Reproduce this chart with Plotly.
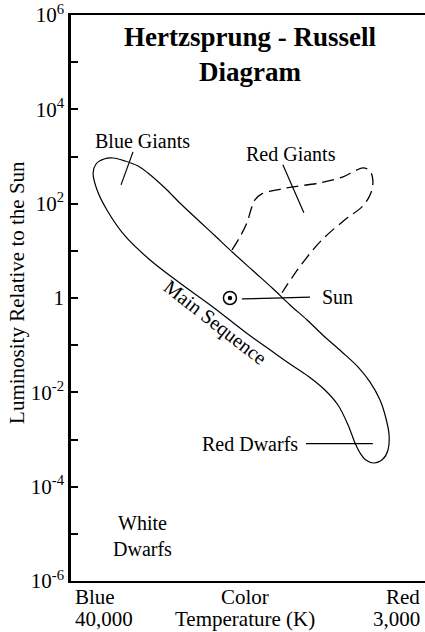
import numpy as np
import plotly.graph_objects as go

# ---------------------------------------------------------------------------
# Data (log10 of effective temperature in K, log10 of luminosity in L_sun)
# ---------------------------------------------------------------------------

# Main-sequence band outline (closed contour)
ms_log_temp = [4.637, 4.626, 4.596, 4.562, 4.517, 4.468, 4.431, 4.367, 4.311,
               4.235, 4.179, 4.111, 4.036, 3.961, 3.897, 3.833, 3.766, 3.702,
               3.642, 3.597, 3.559, 3.537, 3.525, 3.529, 3.548, 3.582, 3.612,
               3.634, 3.653, 3.679, 3.717, 3.766, 3.830, 3.897, 3.961, 4.066,
               4.187, 4.311, 4.423, 4.517, 4.585, 4.622]
ms_log_lum = [2.650, 2.841, 2.947, 2.968, 2.905, 2.799, 2.650, 2.332, 2.014,
              1.612, 1.319, 0.959, 0.577, 0.196, -0.148, -0.466, -0.826, -1.144,
              -1.462, -1.780, -2.162, -2.544, -2.904, -3.222, -3.413, -3.498, -3.434,
              -3.286, -3.074, -2.692, -2.268, -1.950, -1.653, -1.399, -1.144, -0.720,
              -0.190, 0.318, 0.806, 1.315, 1.866, 2.290]

# Red-giant branch region (open dashed contour)
rg_log_temp = [4.115, 4.085, 4.059, 4.044, 4.029, 4.003, 3.946, 3.886, 3.785,
               3.698, 3.653, 3.623, 3.597, 3.586, 3.593, 3.623, 3.691, 3.777,
               3.841, 3.890, 3.927]
rg_log_lum = [1.022, 1.298, 1.594, 1.870, 2.081, 2.208, 2.293, 2.357, 2.441,
              2.569, 2.696, 2.759, 2.696, 2.505, 2.230, 1.954, 1.658, 1.234,
              0.810, 0.429, 0.111]

# The Sun
sun_temp_k = 13270.0
sun_lum = 1.0

# Leader lines from labels to regions: (log T start, log T end), (log L start, log L end)
leader_log_temp = [(4.487, 4.532), (3.924, 3.845), (4.078, 3.822), (3.837, 3.586)]
leader_log_lum = [(3.098, 2.399), (2.823, 1.806), (-0.02, 0.02), (-3.087, -3.087)]

# Region labels (positions in log units)
region_labels = ["Blue Giants", "Red Giants", "Sun", "Red Dwarfs",
                 "Main Sequence", "White<br>Dwarfs"]
region_log_temp = [4.450, 3.894, 3.785, 3.860, 4.179, 4.450]
region_log_lum = [3.331, 3.056, 0.030, -3.087, -0.524, -5.036]

# Axis ticks and labels
y_major_exponents = [-6, -4, -2, 0, 2, 4, 6]
y_minor_exponents = [-5, -3, -1, 1, 3, 5]
y_tick_labels = ["10<sup>-6</sup>", "10<sup>-4</sup>", "10<sup>-2</sup>", "1",
                 "10<sup>2</sup>", "10<sup>4</sup>", "10<sup>6</sup>"]
x_left_labels = ["Blue", "40,000"]
x_mid_labels = ["Color", "Temperature (K)"]
x_right_labels = ["Red", "3,000"]

# ---------------------------------------------------------------------------
SERIF = "Liberation Serif, Times New Roman, serif"
INK = "black"

fig = go.Figure()

# Main sequence (closed smooth curve: first point repeated at the end)
ms_t = np.array(ms_log_temp + ms_log_temp[:1])
ms_l = np.array(ms_log_lum + ms_log_lum[:1])
fig.add_trace(go.Scatter(
    x=10 ** ms_t, y=10 ** ms_l, mode="lines",
    line=dict(color=INK, width=1.2, shape="spline", smoothing=1.0),
    hoverinfo="skip", showlegend=False))

# Red giants (dashed)
fig.add_trace(go.Scatter(
    x=10 ** np.array(rg_log_temp), y=10 ** np.array(rg_log_lum), mode="lines",
    line=dict(color=INK, width=1.3, shape="spline", smoothing=1.0, dash="12px,6px"),
    hoverinfo="skip", showlegend=False))

# Leader lines
for (t0, t1), (l0, l1) in zip(leader_log_temp, leader_log_lum):
    fig.add_trace(go.Scatter(
        x=[10 ** t0, 10 ** t1], y=[10 ** l0, 10 ** l1], mode="lines",
        line=dict(color=INK, width=1.2),
        hoverinfo="skip", showlegend=False))

# Sun symbol: open circle with a central dot
fig.add_trace(go.Scatter(
    x=[sun_temp_k], y=[sun_lum], mode="markers",
    marker=dict(symbol="circle-open", size=13, color=INK, line=dict(width=1.5)),
    hoverinfo="skip", showlegend=False))
fig.add_trace(go.Scatter(
    x=[sun_temp_k], y=[sun_lum], mode="markers",
    marker=dict(symbol="circle", size=4.5, color=INK),
    hoverinfo="skip", showlegend=False))

# Region labels
anchors = {"Sun": "left", "Red Dwarfs": "right"}
for text, t, l in zip(region_labels, region_log_temp, region_log_lum):
    fig.add_annotation(
        x=t, y=l, xref="x", yref="y", text=text, showarrow=False,
        xanchor=anchors.get(text, "center"), yanchor="middle",
        textangle=38 if text == "Main Sequence" else 0,
        font=dict(family=SERIF, size=20, color=INK))

# Title
fig.add_annotation(
    x=0.505, y=0.931, xref="paper", yref="paper",
    text="<b>Hertzsprung - Russell<br>Diagram</b>", showarrow=False,
    xanchor="center", yanchor="middle",
    font=dict(family=SERIF, size=27, color=INK))

# Vertical axis title
fig.add_annotation(
    x=-0.1525, y=0.509, xref="paper", yref="paper",
    text="Luminosity Relative to the Sun", showarrow=False, textangle=-90,
    xanchor="center", yanchor="middle",
    font=dict(family=SERIF, size=21, color=INK))

# Horizontal axis labels (one annotation per line for tight leading)
line_y = [-0.0283, -0.0672]
for i in range(2):
    fig.add_annotation(x=0.0056, y=line_y[i], xref="paper", yref="paper",
                       text=x_left_labels[i], showarrow=False,
                       xanchor="left", yanchor="middle",
                       font=dict(family=SERIF, size=21, color=INK))
    fig.add_annotation(x=0.4915, y=line_y[i], xref="paper", yref="paper",
                       text=x_mid_labels[i], showarrow=False,
                       xanchor="center", yanchor="middle",
                       font=dict(family=SERIF, size=21, color=INK))
    fig.add_annotation(x=0.9915, y=line_y[i], xref="paper", yref="paper",
                       text=x_right_labels[i], showarrow=False,
                       xanchor="right", yanchor="middle",
                       font=dict(family=SERIF, size=21, color=INK))

fig.update_xaxes(
    type="log", range=[4.72, 3.39],
    showline=True, linecolor=INK, linewidth=2, mirror=True,
    tickmode="array", tickvals=[], ticks="", showticklabels=False,
    showgrid=False, zeroline=False)

fig.update_yaxes(
    type="log", range=[-6, 6],
    showline=True, linecolor=INK, linewidth=2.5, mirror=False,
    tickmode="array", tickvals=[10.0 ** e for e in y_major_exponents],
    ticktext=y_tick_labels,
    ticks="inside", ticklen=7, tickwidth=2, tickcolor=INK,
    tickfont=dict(family=SERIF, size=21, color=INK),
    minor=dict(tickmode="array", tickvals=[10.0 ** e for e in y_minor_exponents],
               ticks="inside", ticklen=7, tickwidth=2, tickcolor=INK,
               showgrid=False),
    showgrid=False, zeroline=False)

fig.update_layout(
    width=425, height=632,
    margin=dict(l=71, r=0, t=15, b=51),
    paper_bgcolor="white", plot_bgcolor="white",
    showlegend=False)

fig.write_html("out.html")
